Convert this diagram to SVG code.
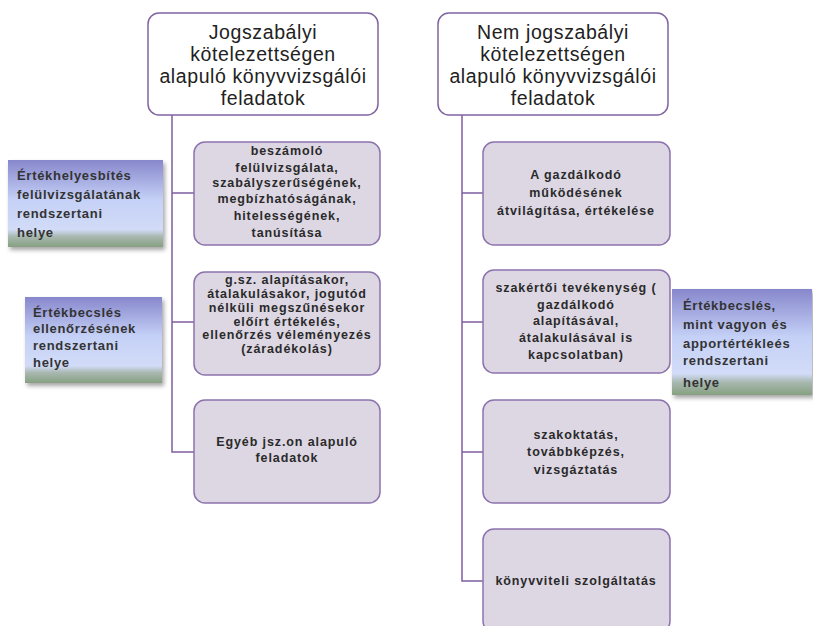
<svg xmlns="http://www.w3.org/2000/svg" width="813" height="626" viewBox="0 0 813 626">
<defs>
<linearGradient id="sideGrad" x1="0" y1="0" x2="0" y2="1">
<stop offset="0" stop-color="#8787CC"/>
<stop offset="0.45" stop-color="#C4D0F6"/>
<stop offset="0.8" stop-color="#D2DCF8"/>
<stop offset="0.88" stop-color="#A8B8B0"/>
<stop offset="1" stop-color="#86A080"/>
</linearGradient>
<filter id="shadow" x="-10%" y="-10%" width="125%" height="130%">
<feDropShadow dx="2" dy="3" stdDeviation="2" flood-color="#000" flood-opacity="0.35"/>
</filter>
</defs>
<style>
.top{fill:#FFFFFF;stroke:#8064A2;stroke-width:1.5}
.child{fill:#DDD7E4;stroke:#8C73AE;stroke-width:1.5}
.side{fill:url(#sideGrad);filter:url(#shadow)}
.conn{fill:none;stroke:#7D5FA0;stroke-width:1.5}
.tt{font-family:"Liberation Sans",Arial,sans-serif;font-size:19.5px;letter-spacing:0.6px;fill:#222;text-anchor:middle}
.ct{font-family:"Liberation Sans",Arial,sans-serif;font-size:12.5px;letter-spacing:0.9px;font-weight:bold;fill:#2A2A2A;text-anchor:middle}
.st{font-family:"Liberation Sans",Arial,sans-serif;font-size:13px;letter-spacing:0.7px;font-weight:bold;fill:#333}
</style>
<rect width="813" height="626" fill="#FFFFFF"/>
<g id="connectors">
<path class="conn" d="M172,115 V452 H194 M172,193 H194 M172,322 H194"/>
<path class="conn" d="M462,115 V581 H483 M462,193 H483 M462,322 H483 M462,452 H483"/>
</g>
<g id="top-left">
<rect class="top" x="148" y="13" width="230" height="102" rx="11"/>
<text class="tt" x="263" y="39">Jogszabályi</text>
<text class="tt" x="263" y="61">kötelezettségen</text>
<text class="tt" x="263" y="83">alapuló könyvvizsgálói</text>
<text class="tt" x="263" y="105">feladatok</text>
</g>
<g id="top-right">
<rect class="top" x="438" y="13" width="230" height="102" rx="11"/>
<text class="tt" x="553" y="39">Nem jogszabályi</text>
<text class="tt" x="553" y="61">kötelezettségen</text>
<text class="tt" x="553" y="83">alapuló könyvvizsgálói</text>
<text class="tt" x="553" y="105">feladatok</text>
</g>
<g id="left-1">
<rect class="child" x="194" y="142" width="186" height="103" rx="11"/>
<text class="ct" x="287" y="155">beszámoló</text>
<text class="ct" x="287" y="172">felülvizsgálata,</text>
<text class="ct" x="287" y="187">szabályszerűségének,</text>
<text class="ct" x="287" y="203">megbízhatóságának,</text>
<text class="ct" x="287" y="220">hitelességének,</text>
<text class="ct" x="287" y="237">tanúsítása</text>
</g>
<g id="left-2">
<rect class="child" x="194" y="272" width="186" height="103" rx="11"/>
<text class="ct" x="287" y="284">g.sz. alapításakor,</text>
<text class="ct" x="287" y="298">átalakulásakor, jogutód</text>
<text class="ct" x="287" y="312">nélküli megszűnésekor</text>
<text class="ct" x="287" y="326">előírt értékelés,</text>
<text class="ct" x="287" y="339">ellenőrzés véleményezés</text>
<text class="ct" x="287" y="353">(záradékolás)</text>
</g>
<g id="left-3">
<rect class="child" x="194" y="400" width="186" height="103" rx="11"/>
<text class="ct" x="287" y="446">Egyéb jsz.on alapuló</text>
<text class="ct" x="287" y="462">feladatok</text>
</g>
<g id="right-1">
<rect class="child" x="483" y="142" width="187" height="103" rx="11"/>
<text class="ct" x="576" y="179">A gazdálkodó</text>
<text class="ct" x="576" y="197">működésének</text>
<text class="ct" x="576" y="215">átvilágítása, értékelése</text>
</g>
<g id="right-2">
<rect class="child" x="483" y="270" width="187" height="103" rx="11"/>
<text class="ct" x="576" y="292">szakértői tevékenység (</text>
<text class="ct" x="576" y="309">gazdálkodó</text>
<text class="ct" x="576" y="325">alapításával,</text>
<text class="ct" x="576" y="342">átalakulásával  is</text>
<text class="ct" x="576" y="359">kapcsolatban)</text>
</g>
<g id="right-3">
<rect class="child" x="483" y="400" width="187" height="103" rx="11"/>
<text class="ct" x="576" y="439">szakoktatás,</text>
<text class="ct" x="576" y="456">továbbképzés,</text>
<text class="ct" x="576" y="474">vizsgáztatás</text>
</g>
<g id="right-4">
<rect class="child" x="483" y="529" width="187" height="103" rx="11"/>
<text class="ct" x="576" y="585">könyvviteli szolgáltatás</text>
</g>
<g id="side-1">
<rect class="side" x="8" y="160" width="155" height="87"/>
<text class="st" x="17" y="180">Értékhelyesbítés</text>
<text class="st" x="17" y="199">felülvizsgálatának</text>
<text class="st" x="17" y="218">rendszertani</text>
<text class="st" x="17" y="237">helye</text>
</g>
<g id="side-2">
<rect class="side" x="25" y="297" width="137" height="86"/>
<text class="st" x="33" y="317">Értékbecslés</text>
<text class="st" x="33" y="333">ellenőrzésének</text>
<text class="st" x="33" y="350">rendszertani</text>
<text class="st" x="33" y="367">helye</text>
</g>
<g id="side-3">
<rect class="side" x="672" y="289" width="140" height="106"/>
<text class="st" x="683" y="310">Értékbecslés,</text>
<text class="st" x="683" y="329">mint vagyon  és</text>
<text class="st" x="683" y="348">apportértékleés</text>
<text class="st" x="683" y="365">rendszertani</text>
<text class="st" x="683" y="387">helye</text>
</g>
</svg>
